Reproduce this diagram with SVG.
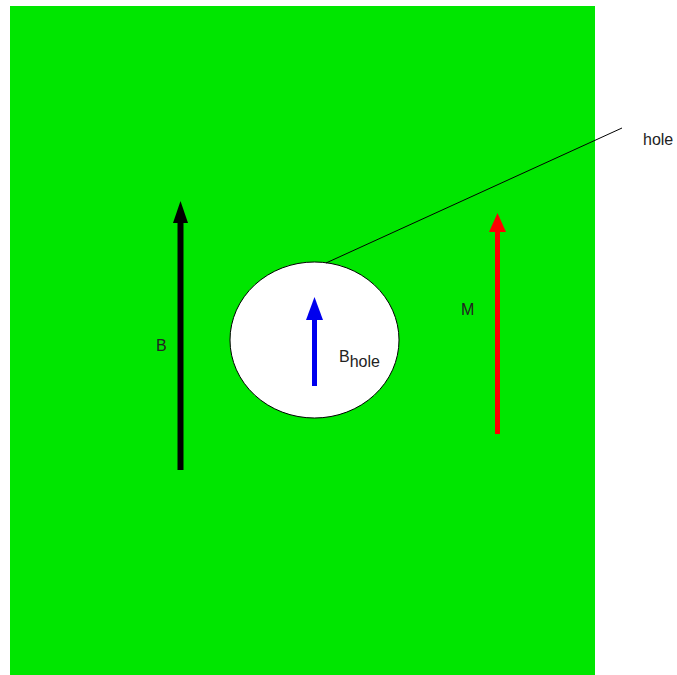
<svg xmlns="http://www.w3.org/2000/svg" width="677" height="675" viewBox="0 0 677 675">
<style>
text{font-family:"Liberation Sans",Arial,sans-serif;font-size:16px;fill:#222}
</style>
<rect width="677" height="675" fill="#fff"/>
<rect id="plate" x="10" y="6" width="585" height="669" fill="#00e600"/>
<g id="hole-node">
<ellipse cx="314.5" cy="340" rx="84.5" ry="78" fill="#fff" stroke="#000" stroke-width="1"/>
</g>
<g id="connectors">
<line x1="326" y1="263" x2="622" y2="128" stroke="#000" stroke-width="1"/>
<g id="arrow-B">
<line x1="180.5" y1="470" x2="180.5" y2="218" stroke="#000" stroke-width="6"/>
<polygon points="180.5,201 173,223 188,223" fill="#000"/>
</g>
<g id="arrow-Bhole">
<line x1="314.5" y1="386" x2="314.5" y2="316" stroke="#0000ee" stroke-width="5"/>
<polygon points="314.5,297 306,320 323,320" fill="#0000ee"/>
</g>
<g id="arrow-M">
<line x1="497.5" y1="434" x2="497.5" y2="228" stroke="#ff0000" stroke-width="5"/>
<polygon points="497.5,213 489,232 506,232" fill="#ff0000"/>
</g>
</g>
<g id="labels">
<text x="643" y="145">hole</text>
<text x="156" y="351">B</text>
<text x="461" y="315">M</text>
<text x="339" y="362">B<tspan dy="5">hole</tspan></text>
</g>
</svg>
